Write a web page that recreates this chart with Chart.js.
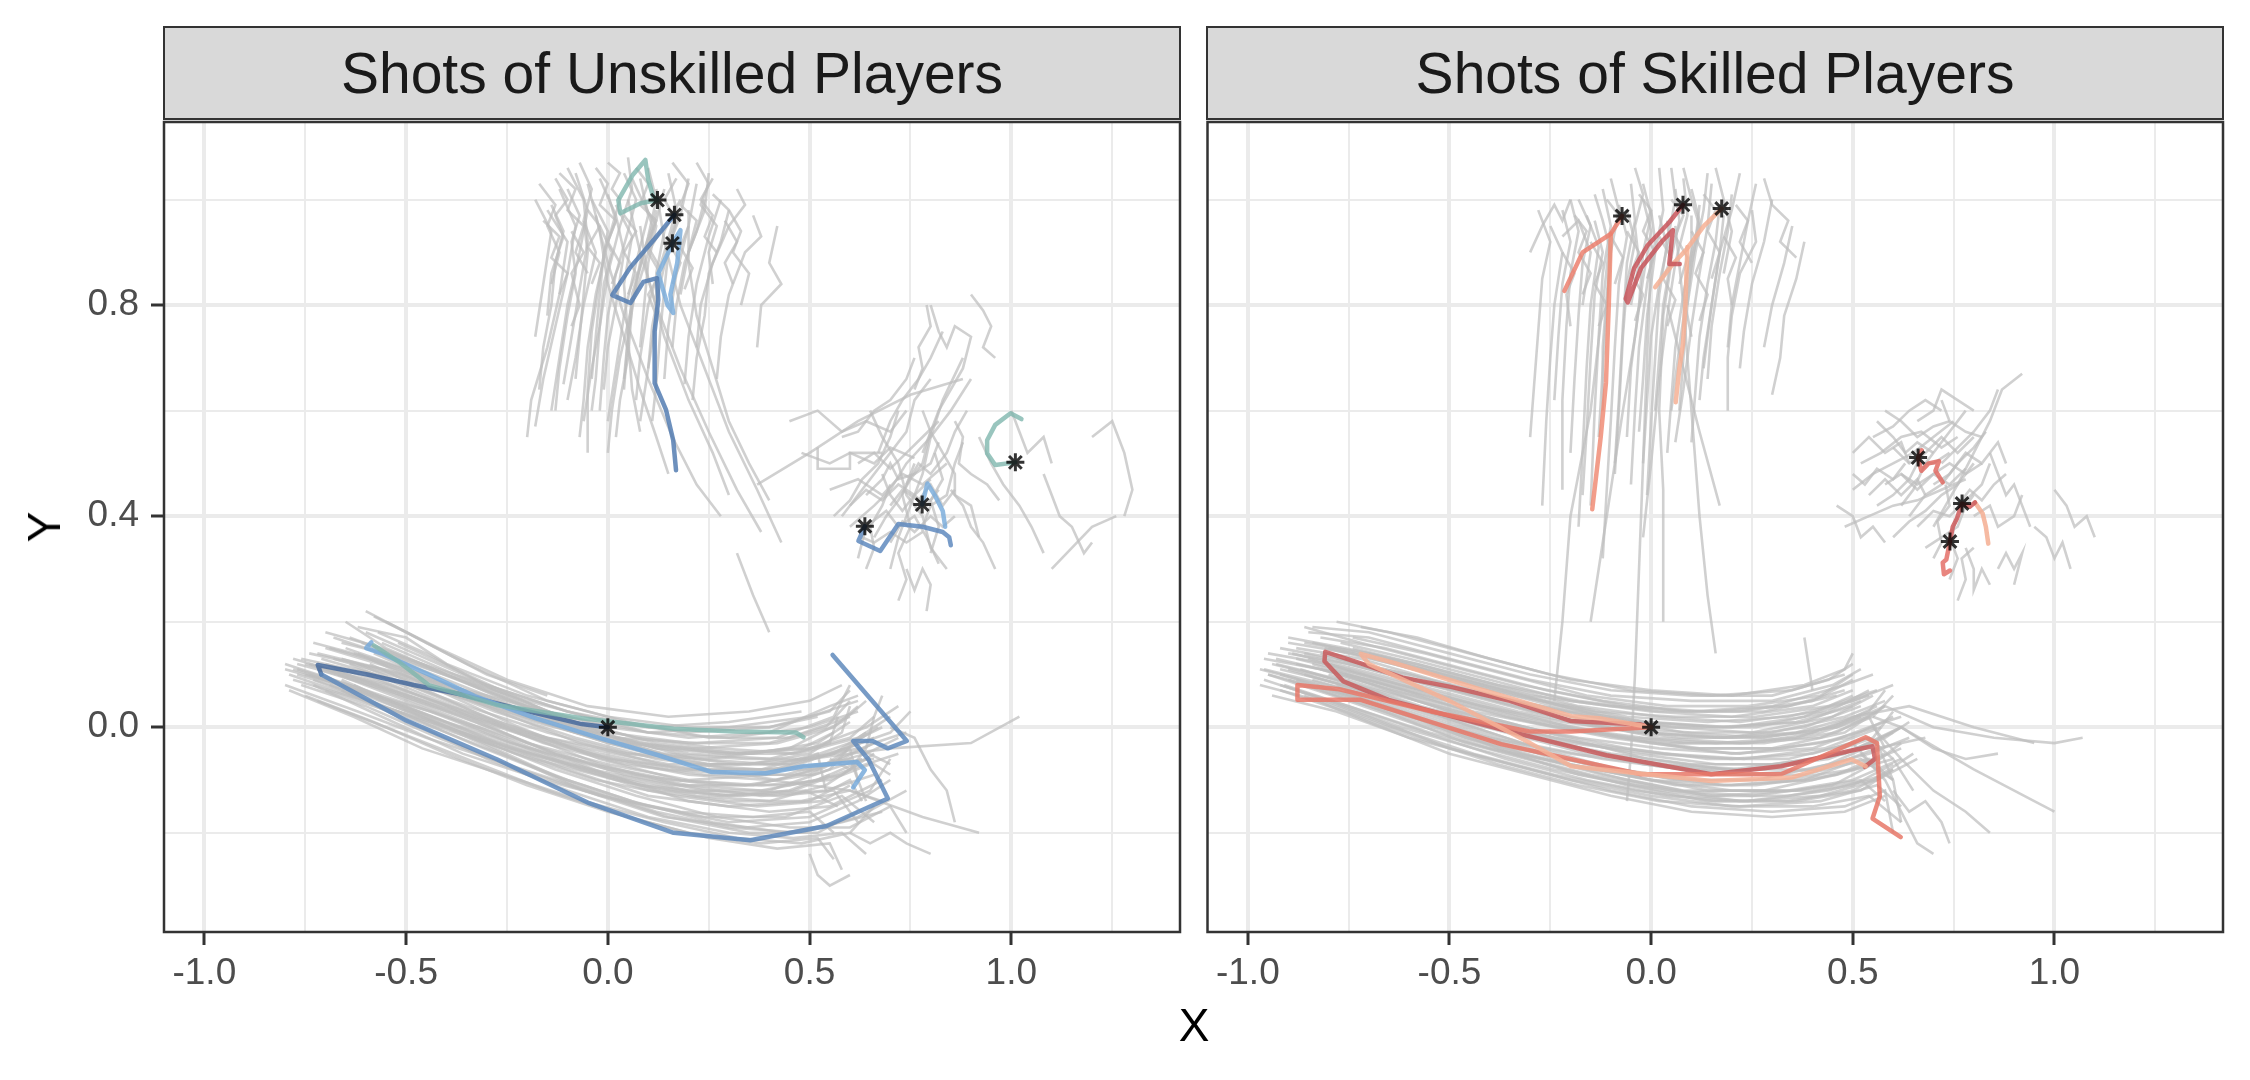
<!DOCTYPE html>
<html><head><meta charset="utf-8">
<script src="https://cdn.jsdelivr.net/npm/chart.js@4.4.1/dist/chart.umd.min.js"></script>
<style>
html,body{margin:0;padding:0;background:#fff;width:2250px;height:1080px;overflow:hidden;font-family:"Liberation Sans",Arial,sans-serif;}
.strip{position:absolute;top:26px;height:94px;background:#d9d9d9;border:2.5px solid #333;box-sizing:border-box;display:flex;align-items:center;justify-content:center;font-size:57px;color:#1a1a1a;white-space:nowrap;}
canvas{position:absolute;}
.axt{position:absolute;font-size:46px;color:#000;line-height:1;}
</style></head><body>
<div class="strip" id="s1" style="left:163px;width:1018px;"></div>
<div class="strip" id="s2" style="left:1206px;width:1018px;"></div>
<canvas id="c1" width="1190" height="895" style="left:0;top:117px;width:1190px;height:895px"></canvas>
<canvas id="c2" width="1038" height="895" style="left:1195px;top:117px;width:1038px;height:895px"></canvas>
<div class="axt" id="xt" style="left:1194px;top:1025px;transform:translate(-50%,-50%);"></div>
<div class="axt" id="yt" style="left:44px;top:527px;transform:translate(-50%,-50%) rotate(-90deg);"></div>
<script>
// ---------------- data ----------------
const panelTitles = ['Shots of Unskilled Players', 'Shots of Skilled Players'];
const xTitle = 'X';
const yTitle = 'Y';
const xTickValues = [-1, -0.5, 0, 0.5, 1];
const xTickLabels = ['-1.0', '-0.5', '0.0', '0.5', '1.0'];
const xMinorValues = [-0.75, -0.25, 0.25, 0.75, 1.25];
const yTickValues = [0, 0.4, 0.8];
const yTickLabels = ['0.0', '0.4', '0.8'];
const yMinorValues = [-0.2, 0.2, 0.6, 1.0];
const xRange = [-1.1, 1.418];
const yRange = [-0.388, 1.147];

// gray trajectories, flat [x1,y1,x2,y2,...]
const unskilledTop = [
[-0.08,1.05,-0.05,0.98,-0.07,0.9,-0.1,0.8,-0.12,0.7,-0.14,0.6],
[0.0,1.07,0.03,1.05,0.01,1.02,0.03,1.0,0.0,0.92,-0.03,0.82,-0.05,0.72,-0.06,0.62,-0.07,0.55],
[0.08,1.04,0.1,0.97,0.07,0.88,0.04,0.78,0.02,0.68,0.0,0.58],
[-0.12,1.02,-0.08,0.95,-0.1,0.86,-0.13,0.76,-0.16,0.66,-0.18,0.57],
[0.15,1.05,0.17,0.98,0.14,0.9,0.1,0.8,0.08,0.7,0.07,0.62],
[-0.04,1.0,0.0,0.94,-0.02,0.85,-0.04,0.75,-0.05,0.64,-0.05,0.52],
[0.22,1.03,0.2,0.95,0.17,0.86,0.15,0.76,0.14,0.66],
[-0.15,0.98,-0.1,0.92,-0.12,0.82,-0.15,0.72,-0.19,0.62,-0.2,0.55],
[0.05,1.08,0.06,1.02,0.03,0.95,0.0,0.86,-0.02,0.76,-0.03,0.66,-0.04,0.6],
[0.28,1.0,0.25,0.93,0.22,0.84,0.2,0.74,0.19,0.65],
[-0.1,1.06,-0.06,1.0,-0.05,0.92,-0.07,0.83,-0.09,0.74,-0.11,0.65],
[0.12,0.98,0.1,0.9,0.06,0.8,0.03,0.7,0.01,0.6,0.0,0.52],
[-0.02,1.04,0.02,0.97,0.04,0.9,0.02,0.8,0.0,0.72,-0.01,0.64],
[0.32,1.02,0.34,0.99,0.3,0.95,0.26,0.88,0.23,0.8,0.22,0.72],
[0.18,1.0,0.14,0.94,0.12,0.86,0.12,0.78,0.1,0.68,0.08,0.58],
[-0.06,0.96,-0.03,0.9,-0.06,0.8,-0.08,0.7,-0.1,0.62],
[0.1,1.06,0.12,1.0,0.1,0.93,0.07,0.84,0.05,0.74,0.04,0.66],
[0.25,1.05,0.24,0.98,0.2,0.9,0.18,0.82],
[0.36,0.97,0.38,0.93,0.34,0.9,0.3,0.82,0.28,0.74,0.27,0.66],
[0.42,0.95,0.4,0.88,0.43,0.84,0.38,0.8,0.37,0.72],
[-0.18,1.0,-0.14,0.94,-0.16,0.84,-0.18,0.74],
[0.02,0.99,0.06,0.93,0.04,0.84,0.05,0.74,0.06,0.64,0.08,0.56],
[0.05,1.0,0.08,0.9,0.12,0.8,0.18,0.68,0.25,0.56,0.32,0.45,0.38,0.37],
[0.12,1.02,0.14,0.92,0.18,0.8,0.24,0.68,0.3,0.56,0.37,0.45,0.43,0.35],
[-0.03,0.97,0.0,0.88,0.04,0.78,0.1,0.66,0.16,0.55,0.22,0.46,0.28,0.4],
[0.2,0.98,0.2,0.88,0.22,0.78,0.26,0.68,0.3,0.58,0.35,0.5,0.4,0.43],
[0.08,0.95,0.1,0.85,0.14,0.74,0.2,0.62,0.26,0.52,0.3,0.44],
[-0.05,1.03,-0.02,0.94,0.0,0.84,0.04,0.74,0.08,0.64,0.12,0.55,0.15,0.48],
[-0.13,1.04,-0.1,1.0,-0.13,0.97,-0.11,0.93,-0.14,0.86,-0.15,0.78],
[0.16,1.07,0.2,1.03,0.18,0.99,0.22,0.96,0.2,0.9],
[0.26,1.01,0.3,0.98,0.33,0.94,0.31,0.9,0.35,0.86,0.33,0.8],
[-0.1,1.02,-0.07,0.97,-0.09,0.92,-0.08,0.86,-0.1,0.78,-0.12,0.68,-0.13,0.6],
[0.04,1.05,0.07,1.0,0.05,0.94,0.02,0.86,0.0,0.78,-0.01,0.7,-0.02,0.6],
[0.14,1.02,0.12,0.96,0.09,0.9,0.06,0.82,0.05,0.74,0.04,0.64],
[0.2,1.04,0.18,0.97,0.15,0.91,0.13,0.84,0.11,0.76,0.1,0.68],
[-0.14,0.99,-0.11,0.94,-0.13,0.88,-0.14,0.8,-0.16,0.72,-0.17,0.64],
[0.0,1.01,0.02,0.96,-0.01,0.9,-0.02,0.82,-0.03,0.74,-0.04,0.66],
[0.24,1.0,0.22,0.94,0.19,0.88,0.17,0.8,0.16,0.72],
[-0.07,1.07,-0.04,1.02,-0.06,0.96,-0.05,0.9,-0.06,0.82,-0.07,0.74,-0.08,0.66],
[0.09,1.0,0.11,0.95,0.08,0.88,0.06,0.8,0.05,0.7,0.03,0.62,0.02,0.55],
[0.3,0.98,0.28,0.92,0.25,0.86,0.24,0.78,0.22,0.7,0.21,0.62],
[-0.02,0.95,0.01,0.9,-0.01,0.84,-0.02,0.76,-0.04,0.68,-0.06,0.58],
[0.17,0.96,0.15,0.9,0.14,0.83,0.13,0.75,0.12,0.65,0.11,0.58],
[0.06,1.04,0.09,0.99,0.12,0.95,0.1,0.88,0.09,0.8,0.08,0.72],
[-0.17,1.03,-0.13,0.99,-0.15,0.95,-0.12,0.9,-0.14,0.84],
[0.22,1.07,0.25,1.03,0.23,0.99,0.27,0.95,0.25,0.9,0.26,0.84],
[-0.12,1.05,-0.08,1.02,-0.1,0.98,-0.06,0.95,-0.08,0.9,-0.05,0.86],
[-0.03,1.06,0.0,1.03,-0.02,0.99,0.02,0.96,0.0,0.92,0.03,0.88,0.01,0.84],
[0.07,1.06,0.1,1.03,0.08,0.99,0.12,0.96,0.1,0.91,0.13,0.87],
[0.17,1.04,0.14,1.0,0.17,0.96,0.15,0.92,0.18,0.88,0.16,0.84],
[0.26,1.04,0.23,1.0,0.26,0.97,0.24,0.93,0.27,0.9],
[-0.16,0.96,-0.12,0.93,-0.14,0.89,-0.1,0.86,-0.12,0.82],
[-0.05,0.98,-0.02,0.95,-0.05,0.91,-0.02,0.88,-0.04,0.84],
[0.04,0.97,0.07,0.94,0.04,0.9,0.07,0.86,0.05,0.82],
[0.2,0.95,0.18,0.91,0.21,0.87,0.19,0.83],
[0.29,0.96,0.32,0.92,0.29,0.88,0.31,0.84],
[-0.09,0.94,-0.06,0.9,-0.09,0.86,-0.07,0.8,-0.09,0.76],
[0.13,0.94,0.1,0.9,0.13,0.86,0.1,0.82,0.12,0.78]
];
const unskilledRight = [
[0.6,0.38,0.66,0.42,0.7,0.45,0.74,0.5,0.8,0.55,0.85,0.6,0.9,0.66],
[0.55,0.45,0.62,0.47,0.68,0.44,0.73,0.48,0.78,0.46,0.84,0.5],
[0.7,0.3,0.72,0.36,0.75,0.42,0.78,0.48,0.8,0.55,0.83,0.62,0.88,0.7],
[0.48,0.52,0.55,0.5,0.6,0.52,0.66,0.5,0.7,0.53,0.76,0.51],
[0.62,0.32,0.64,0.38,0.69,0.41,0.72,0.38,0.76,0.4,0.79,0.36,0.82,0.31],
[0.8,0.8,0.82,0.75,0.84,0.72,0.86,0.76,0.9,0.74,0.88,0.68,0.82,0.6,0.78,0.52],
[0.92,0.55,0.95,0.5,0.98,0.46,1.02,0.42,1.05,0.38,1.08,0.33],
[0.45,0.58,0.52,0.6,0.58,0.56,0.64,0.58,0.7,0.56,0.74,0.6],
[0.72,0.24,0.74,0.28,0.72,0.33,0.75,0.38,0.73,0.44,0.76,0.5],
[0.65,0.6,0.68,0.55,0.72,0.5,0.74,0.44,0.78,0.4,0.8,0.34,0.84,0.3],
[1.08,0.48,1.1,0.44,1.12,0.4,1.15,0.38,1.18,0.33,1.2,0.35],
[0.85,0.45,0.88,0.42,0.9,0.38,0.93,0.35,0.96,0.3],
[0.58,0.4,0.62,0.44,0.66,0.48,0.7,0.52,0.74,0.56,0.76,0.62,0.8,0.66],
[0.9,0.82,0.93,0.79,0.95,0.76,0.93,0.72,0.96,0.7],
[0.52,0.53,0.52,0.49,0.6,0.49,0.6,0.52,0.68,0.52],
[0.78,0.6,0.8,0.56,0.83,0.52,0.86,0.48,0.86,0.44,0.9,0.42,0.92,0.36],
[0.7,0.42,0.73,0.45,0.77,0.43,0.8,0.46,0.83,0.42,0.86,0.45],
[0.74,0.3,0.76,0.26,0.78,0.3,0.8,0.27,0.79,0.22],
[1.0,0.6,1.02,0.56,1.04,0.52,1.08,0.55,1.1,0.5],
[0.37,0.46,0.5,0.52,0.62,0.58,0.75,0.63,0.88,0.66],
[0.64,0.44,0.68,0.47,0.7,0.5,0.72,0.47,0.76,0.48,0.8,0.5,0.82,0.54],
[0.86,0.58,0.88,0.55,0.87,0.5,0.9,0.48,0.94,0.46,0.97,0.43],
[0.63,0.36,0.66,0.35,0.7,0.37,0.74,0.35,0.78,0.37],
[0.8,0.33,0.82,0.38,0.8,0.43,0.83,0.47,0.81,0.52],
[1.2,0.55,1.25,0.58,1.28,0.52,1.3,0.45,1.28,0.4],
[1.1,0.3,1.15,0.34,1.2,0.38,1.26,0.4],
[0.76,0.64,0.78,0.68,0.77,0.72,0.8,0.76,0.79,0.8],
[0.67,0.52,0.7,0.58,0.73,0.62,0.77,0.66,0.8,0.7,0.83,0.75],
[0.6,0.42,0.64,0.45,0.68,0.43,0.72,0.46,0.76,0.44,0.8,0.47],
[0.66,0.36,0.69,0.4,0.72,0.43,0.75,0.47,0.78,0.5,0.8,0.56],
[0.62,0.5,0.66,0.52,0.7,0.49,0.74,0.52,0.78,0.55,0.82,0.58],
[0.7,0.35,0.73,0.39,0.76,0.37,0.8,0.4,0.83,0.38,0.86,0.4],
[0.56,0.4,0.6,0.43,0.63,0.47,0.67,0.5,0.7,0.55,0.72,0.6],
[0.74,0.46,0.77,0.5,0.8,0.48,0.84,0.52,0.86,0.56,0.89,0.6],
[0.68,0.48,0.7,0.44,0.73,0.41,0.76,0.44,0.79,0.42,0.82,0.45],
[0.64,0.3,0.66,0.34,0.65,0.38,0.68,0.42,0.7,0.46],
[0.78,0.38,0.8,0.42,0.84,0.44,0.86,0.5,0.88,0.54],
[0.58,0.55,0.62,0.56,0.66,0.6,0.7,0.62,0.74,0.66,0.76,0.7]
];
const unskilledBottom = [
[-0.78,0.09,-0.6,0.05,-0.4,0.0,-0.2,-0.05,0,-0.09,0.2,-0.12,0.4,-0.12,0.55,-0.08,0.62,-0.02],
[-0.75,0.12,-0.55,0.08,-0.35,0.03,-0.15,-0.02,0.05,-0.05,0.25,-0.06,0.45,-0.04,0.58,0.01,0.64,0.05],
[-0.72,0.14,-0.5,0.1,-0.3,0.06,-0.1,0.02,0.1,-0.01,0.3,0.0,0.5,0.02,0.62,0.05],
[-0.7,0.07,-0.5,0.02,-0.3,-0.04,-0.1,-0.1,0.1,-0.15,0.3,-0.18,0.5,-0.17,0.65,-0.12,0.7,-0.06],
[-0.66,0.16,-0.5,0.13,-0.3,0.08,-0.1,0.03,0.1,0.0,0.3,0.01,0.48,0.03],
[-0.62,0.19,-0.5,0.17,-0.4,0.12,-0.2,0.06,0,0.02,0.2,0.0,0.4,0.0,0.55,0.03,0.6,0.07],
[-0.8,0.08,-0.62,0.03,-0.45,-0.02,-0.25,-0.07,-0.05,-0.12,0.15,-0.17,0.35,-0.2,0.52,-0.2,0.62,-0.16],
[-0.74,0.1,-0.55,0.05,-0.35,-0.01,-0.1,-0.08,0.1,-0.13,0.3,-0.15,0.5,-0.14,0.6,-0.1,0.63,-0.14],
[-0.68,0.13,-0.45,0.08,-0.25,0.03,0,-0.03,0.25,-0.07,0.45,-0.07,0.6,-0.03,0.68,0.0],
[-0.6,0.15,-0.4,0.09,-0.2,0.03,0,-0.02,0.2,-0.05,0.4,-0.06,0.55,-0.03,0.57,0.02],
[-0.77,0.11,-0.6,0.07,-0.4,0.02,-0.2,-0.03,0,-0.07,0.2,-0.1,0.4,-0.09,0.55,-0.05,0.7,-0.01,0.75,0.03],
[-0.72,0.05,-0.55,0.0,-0.35,-0.06,-0.15,-0.12,0.05,-0.17,0.25,-0.21,0.42,-0.23,0.55,-0.22,0.58,-0.27],
[-0.64,0.12,-0.45,0.06,-0.25,0.0,-0.05,-0.05,0.15,-0.08,0.35,-0.09,0.52,-0.07,0.66,-0.06],
[-0.58,0.21,-0.5,0.18,-0.35,0.12,-0.15,0.05,0.05,0.01,0.25,-0.02,0.45,-0.02,0.6,0.02],
[-0.76,0.13,-0.58,0.1,-0.38,0.06,-0.18,0.01,0.02,-0.03,0.22,-0.04,0.42,-0.03,0.56,0.0,0.62,0.04],
[-0.7,0.11,-0.52,0.06,-0.32,0.0,-0.12,-0.06,0.08,-0.11,0.28,-0.13,0.46,-0.12,0.6,-0.08,0.72,-0.05],
[-0.66,0.09,-0.48,0.03,-0.28,-0.04,-0.08,-0.11,0.12,-0.16,0.3,-0.19,0.48,-0.2,0.62,-0.17,0.74,-0.12],
[-0.55,0.2,-0.42,0.15,-0.25,0.09,-0.05,0.04,0.15,0.02,0.35,0.03,0.5,0.05,0.58,0.08],
[-0.79,0.1,-0.64,0.06,-0.44,0.01,-0.24,-0.04,-0.04,-0.08,0.16,-0.11,0.36,-0.11,0.52,-0.08,0.6,-0.04,0.62,-0.1],
[-0.62,0.14,-0.42,0.07,-0.22,0.0,-0.02,-0.06,0.18,-0.1,0.38,-0.11,0.55,-0.1,0.65,-0.07],
[-0.73,0.08,-0.56,0.02,-0.36,-0.05,-0.16,-0.1,0.04,-0.14,0.24,-0.17,0.44,-0.17,0.58,-0.13,0.66,-0.18],
[-0.68,0.17,-0.52,0.13,-0.33,0.08,-0.13,0.02,0.07,-0.02,0.27,-0.04,0.47,-0.05,0.62,-0.02,0.7,0.02],
[-0.8,0.11,-0.66,0.08,-0.5,0.04,-0.3,-0.02,-0.1,-0.07,0.1,-0.11,0.3,-0.13,0.45,-0.12,0.55,-0.09],
[-0.6,0.1,-0.4,0.04,-0.2,-0.03,0.0,-0.09,0.2,-0.14,0.4,-0.16,0.55,-0.15,0.68,-0.1],
[-0.57,0.18,-0.45,0.14,-0.28,0.07,-0.08,0.01,0.12,-0.03,0.32,-0.05,0.5,-0.04,0.64,0.0,0.72,0.04],
[-0.75,0.06,-0.58,0.01,-0.4,-0.05,-0.2,-0.11,0.0,-0.16,0.2,-0.2,0.38,-0.22,0.52,-0.21,0.56,-0.25],
[-0.65,0.2,-0.55,0.15,-0.4,0.1,-0.2,0.04,0,0.0,0.2,-0.02,0.4,-0.01,0.55,0.04,0.62,0.06],
[-0.7,0.15,-0.48,0.1,-0.28,0.04,-0.08,-0.01,0.12,-0.05,0.32,-0.07,0.5,-0.06,0.7,-0.04,0.9,-0.03,1.02,0.02],
[-0.62,0.12,-0.4,0.05,-0.2,-0.01,0,-0.06,0.2,-0.09,0.4,-0.1,0.6,-0.12,0.78,-0.17,0.92,-0.2],
[-0.78,0.13,-0.6,0.09,-0.42,0.04,-0.22,-0.01,-0.02,-0.05,0.18,-0.08,0.38,-0.08,0.52,-0.05,0.54,-0.12],
[-0.52,0.16,-0.35,0.1,-0.15,0.03,0.05,-0.03,0.25,-0.08,0.42,-0.1,0.6,-0.06,0.64,-0.14],
[-0.71,0.1,-0.53,0.04,-0.33,-0.02,-0.13,-0.08,0.07,-0.13,0.27,-0.17,0.45,-0.19,0.6,-0.19,0.7,-0.15,0.74,-0.2],
[-0.6,0.22,-0.55,0.2,-0.45,0.16,-0.3,0.1,-0.15,0.06],
[0.4,0.18,0.36,0.25,0.32,0.33],
[-0.77,0.12,-0.62,0.09,-0.45,0.05,-0.25,0.0,-0.05,-0.04,0.15,-0.07,0.35,-0.07,0.5,-0.05,0.58,-0.01,0.6,0.04],
[-0.73,0.09,-0.56,0.04,-0.38,-0.01,-0.18,-0.06,0.02,-0.1,0.22,-0.13,0.4,-0.14,0.54,-0.11,0.62,-0.07],
[-0.69,0.15,-0.5,0.11,-0.32,0.06,-0.12,0.01,0.08,-0.03,0.28,-0.05,0.46,-0.05,0.6,-0.02,0.66,0.02],
[-0.64,0.17,-0.46,0.12,-0.28,0.06,-0.08,0.0,0.12,-0.04,0.3,-0.05,0.48,-0.04,0.56,-0.01],
[-0.79,0.07,-0.63,0.02,-0.46,-0.04,-0.26,-0.09,-0.06,-0.14,0.14,-0.18,0.32,-0.21,0.48,-0.22,0.6,-0.2,0.66,-0.15],
[-0.75,0.1,-0.58,0.06,-0.4,0.01,-0.2,-0.04,0.0,-0.08,0.2,-0.11,0.38,-0.12,0.52,-0.1,0.64,-0.06,0.7,-0.09],
[-0.6,0.18,-0.48,0.14,-0.3,0.08,-0.1,0.03,0.1,-0.01,0.3,-0.02,0.5,0.0,0.62,0.03],
[-0.7,0.12,-0.54,0.08,-0.36,0.03,-0.16,-0.03,0.04,-0.07,0.24,-0.09,0.44,-0.09,0.58,-0.06,0.66,-0.03],
[-0.67,0.1,-0.5,0.05,-0.3,-0.01,-0.1,-0.07,0.1,-0.12,0.3,-0.14,0.48,-0.14,0.6,-0.12,0.68,-0.14],
[-0.74,0.14,-0.56,0.11,-0.38,0.07,-0.18,0.02,0.02,-0.02,0.22,-0.03,0.42,-0.02,0.56,0.02,0.6,0.08],
[-0.63,0.08,-0.46,0.02,-0.26,-0.05,-0.06,-0.12,0.14,-0.17,0.34,-0.19,0.5,-0.18,0.62,-0.14,0.7,-0.1],
[-0.58,0.14,-0.4,0.08,-0.2,0.02,0.0,-0.03,0.2,-0.07,0.38,-0.08,0.54,-0.07,0.66,-0.03,0.74,-0.01],
[-0.76,0.08,-0.6,0.04,-0.42,-0.02,-0.22,-0.08,-0.02,-0.13,0.18,-0.16,0.36,-0.17,0.5,-0.16,0.56,-0.2],
[-0.7,0.18,-0.56,0.15,-0.4,0.1,-0.2,0.05,0.0,0.01,0.2,-0.01,0.4,0.0,0.52,0.02],
[-0.66,0.13,-0.48,0.09,-0.28,0.03,-0.08,-0.02,0.12,-0.06,0.32,-0.08,0.5,-0.08,0.64,-0.05,0.72,-0.02],
[-0.72,0.11,-0.55,0.07,-0.36,0.02,-0.16,-0.04,0.04,-0.09,0.24,-0.12,0.42,-0.13,0.56,-0.12,0.62,-0.18],
[-0.61,0.16,-0.44,0.11,-0.24,0.05,-0.04,-0.01,0.16,-0.04,0.36,-0.05,0.52,-0.03,0.6,0.01],
[-0.78,0.11,-0.62,0.07,-0.44,0.03,-0.24,-0.03,-0.04,-0.07,0.16,-0.1,0.34,-0.11,0.5,-0.09,0.58,-0.06],
[-0.69,0.08,-0.52,0.03,-0.34,-0.03,-0.14,-0.09,0.06,-0.14,0.26,-0.18,0.44,-0.2,0.58,-0.18,0.68,-0.16],
[-0.65,0.15,-0.46,0.1,-0.26,0.04,-0.06,-0.01,0.14,-0.05,0.34,-0.06,0.5,-0.06,0.62,-0.04,0.7,-0.07],
[0.55,-0.06,0.6,-0.08,0.64,-0.04,0.66,0.02,0.68,0.06],
[0.6,-0.2,0.65,-0.22,0.7,-0.2,0.74,-0.22,0.8,-0.24],
[0.7,0.0,0.76,-0.02,0.8,-0.08,0.84,-0.12,0.86,-0.18],
[0.5,-0.24,0.52,-0.28,0.55,-0.3,0.6,-0.28],
[-0.74,0.12,-0.57,0.08,-0.39,0.03,-0.19,-0.02,0.01,-0.06,0.21,-0.08,0.41,-0.08,0.56,-0.05,0.64,-0.01],
[-0.68,0.11,-0.51,0.06,-0.33,0.01,-0.13,-0.05,0.07,-0.09,0.27,-0.11,0.45,-0.11,0.58,-0.09,0.66,-0.05],
[-0.63,0.14,-0.45,0.09,-0.27,0.03,-0.07,-0.03,0.13,-0.07,0.33,-0.09,0.51,-0.09,0.63,-0.06],
[-0.77,0.1,-0.6,0.06,-0.43,0.01,-0.23,-0.05,-0.03,-0.1,0.17,-0.13,0.37,-0.15,0.53,-0.14,0.6,-0.11],
[-0.71,0.13,-0.53,0.09,-0.35,0.04,-0.15,-0.01,0.05,-0.05,0.25,-0.07,0.45,-0.07,0.59,-0.04,0.67,0.0],
[-0.66,0.07,-0.49,0.01,-0.3,-0.06,-0.1,-0.12,0.1,-0.17,0.3,-0.2,0.46,-0.21,0.58,-0.2,0.64,-0.24],
[-0.59,0.12,-0.42,0.06,-0.22,-0.01,-0.02,-0.07,0.18,-0.11,0.38,-0.13,0.54,-0.12,0.66,-0.09],
[-0.73,0.16,-0.58,0.13,-0.4,0.08,-0.2,0.03,0.0,-0.01,0.2,-0.03,0.4,-0.03,0.54,0.0,0.6,0.05],
[-0.56,0.16,-0.38,0.1,-0.18,0.04,0.02,-0.02,0.22,-0.06,0.4,-0.07,0.56,-0.05,0.66,-0.02],
[-0.8,0.12,-0.64,0.08,-0.47,0.03,-0.27,-0.03,-0.07,-0.08,0.13,-0.12,0.33,-0.13,0.49,-0.12,0.57,-0.15]
];
const skilledTop = [
[-0.28,0.98,-0.25,0.92,-0.27,0.85,-0.28,0.75,-0.29,0.65,-0.3,0.55],
[-0.2,1.0,-0.18,0.94,-0.2,0.86,-0.21,0.76,-0.22,0.62,-0.22,0.45],
[-0.12,1.02,-0.1,0.95,-0.12,0.86,-0.13,0.74,-0.14,0.6,-0.15,0.42],
[-0.05,1.03,-0.04,0.96,-0.06,0.88,-0.07,0.76,-0.08,0.62,-0.09,0.5],
[0.02,1.06,0.03,0.98,0.01,0.9,-0.01,0.78,-0.02,0.66,-0.03,0.56],
[0.08,1.04,0.09,0.97,0.06,0.88,0.04,0.78,0.02,0.66,0.0,0.5,-0.02,0.36],
[0.15,1.03,0.14,0.95,0.12,0.86,0.1,0.76,0.08,0.64,0.06,0.54],
[0.22,1.05,0.2,0.98,0.17,0.9,0.15,0.8,0.13,0.68],
[0.3,1.0,0.28,0.92,0.25,0.84,0.23,0.75,0.22,0.68],
[-0.25,0.95,-0.22,0.9,-0.24,0.8,-0.25,0.7,-0.26,0.58,-0.27,0.42],
[-0.16,0.97,-0.13,0.91,-0.15,0.8,-0.16,0.68,-0.17,0.52,-0.18,0.38],
[-0.08,0.99,-0.06,0.93,-0.08,0.84,-0.09,0.72,-0.1,0.58,-0.11,0.45,-0.12,0.32],
[0.0,0.98,0.01,0.92,-0.01,0.84,-0.03,0.72,-0.04,0.6,-0.05,0.46],
[0.05,1.06,0.06,1.0,0.04,0.92,0.02,0.82,0.01,0.7,0.0,0.58,-0.01,0.44],
[0.12,0.99,0.11,0.92,0.09,0.83,0.07,0.72,0.05,0.6],
[0.18,0.97,0.17,0.9,0.15,0.8,0.13,0.7,0.12,0.62],
[0.35,0.95,0.33,0.88,0.3,0.8,0.28,0.72],
[0.38,0.92,0.36,0.85,0.33,0.78,0.32,0.7,0.3,0.63],
[-0.02,1.0,0.0,0.94,-0.02,0.85,-0.04,0.74,-0.07,0.6,-0.1,0.45,-0.13,0.3,-0.15,0.2],
[0.04,0.96,0.05,0.88,0.03,0.78,0.02,0.6,0.03,0.45,0.03,0.3,0.03,0.2],
[-0.1,0.94,-0.12,0.8,-0.15,0.6,-0.2,0.4,-0.22,0.2,-0.24,0.05],
[0.06,0.95,0.08,0.8,0.1,0.6,0.12,0.4,0.14,0.25,0.16,0.14],
[0.0,0.9,-0.01,0.7,-0.02,0.5,-0.03,0.3,-0.04,0.1,-0.05,-0.05,-0.06,-0.14],
[0.1,1.02,0.12,0.96,0.1,0.9,0.08,0.82,0.1,0.74],
[-0.22,0.93,-0.18,0.96,-0.15,0.9,-0.17,0.8],
[0.25,0.98,0.26,0.92,0.22,0.86,0.2,0.78,0.19,0.7,0.19,0.6],
[0.16,1.06,0.18,1.0,0.2,0.94,0.18,0.86],
[-0.14,1.01,-0.12,0.96,-0.1,0.9,-0.11,0.82,-0.12,0.72,-0.12,0.6],
[0.04,0.8,0.08,0.68,0.12,0.56,0.17,0.42],
[-0.3,0.9,-0.27,0.95,-0.24,0.99,-0.22,0.96,-0.2,1.0],
[0.28,1.04,0.3,0.99,0.34,0.96,0.32,0.92,0.36,0.89],
[-0.18,1.0,-0.15,0.95,-0.17,0.88,-0.18,0.78,-0.19,0.66,-0.2,0.52],
[-0.1,1.04,-0.08,0.98,-0.1,0.9,-0.11,0.8,-0.12,0.68,-0.13,0.55],
[-0.02,1.03,0.0,0.97,-0.02,0.9,-0.03,0.8,-0.05,0.68,-0.06,0.55],
[0.06,1.02,0.07,0.96,0.05,0.89,0.03,0.8,0.02,0.7,0.01,0.6],
[0.14,1.05,0.13,0.98,0.11,0.9,0.09,0.8,0.08,0.7,0.07,0.6],
[0.2,1.01,0.19,0.94,0.17,0.86,0.15,0.76,0.14,0.66],
[-0.14,0.96,-0.12,0.9,-0.14,0.82,-0.15,0.7,-0.16,0.56,-0.17,0.44],
[-0.06,0.98,-0.04,0.92,-0.06,0.84,-0.07,0.74,-0.08,0.6,-0.09,0.48],
[0.02,0.97,0.04,0.91,0.02,0.84,0.0,0.74,-0.01,0.62,-0.02,0.5],
[0.1,0.97,0.1,0.9,0.08,0.82,0.06,0.72,0.05,0.62,0.04,0.52],
[-0.22,0.98,-0.2,0.92,-0.22,0.84,-0.23,0.74,-0.24,0.62],
[0.26,1.03,0.24,0.96,0.22,0.88,0.2,0.8,0.19,0.72],
[-0.04,1.06,-0.02,1.01,-0.04,0.95,-0.03,0.88,-0.05,0.8],
[0.08,1.06,0.1,1.0,0.12,0.95,0.1,0.88,0.09,0.8],
[0.17,0.99,0.16,0.92,0.14,0.84,0.12,0.74,0.11,0.64,0.1,0.54],
[-0.19,0.97,-0.16,0.94,-0.18,0.9,-0.15,0.86,-0.17,0.82],
[-0.11,1.0,-0.08,0.97,-0.1,0.93,-0.07,0.89,-0.09,0.84],
[-0.03,1.01,0.0,0.98,-0.02,0.94,0.01,0.9,-0.01,0.85],
[0.05,1.0,0.08,0.97,0.06,0.93,0.09,0.89,0.07,0.84],
[0.13,1.01,0.16,0.98,0.14,0.94,0.17,0.9,0.15,0.85],
[0.21,0.99,0.24,0.96,0.22,0.92,0.25,0.88],
[-0.15,0.92,-0.12,0.88,-0.14,0.84,-0.11,0.8,-0.13,0.76],
[-0.06,0.94,-0.03,0.9,-0.05,0.86,-0.02,0.82,-0.04,0.77],
[0.02,0.93,0.05,0.89,0.03,0.85,0.06,0.81,0.04,0.76],
[0.1,0.94,0.13,0.9,0.11,0.86,0.14,0.82,0.12,0.77],
[0.18,0.93,0.21,0.89,0.19,0.85,0.2,0.8],
[-0.22,0.9,-0.19,0.86,-0.21,0.82,-0.2,0.76]
];
const skilledRight = [
[0.5,0.45,0.55,0.48,0.6,0.5,0.65,0.52,0.7,0.55,0.75,0.58],
[0.48,0.38,0.54,0.4,0.6,0.42,0.66,0.43,0.72,0.45,0.78,0.47],
[0.55,0.55,0.6,0.57,0.64,0.6,0.68,0.62,0.72,0.6],
[0.6,0.36,0.64,0.39,0.68,0.41,0.72,0.44,0.76,0.46,0.8,0.5],
[0.7,0.38,0.73,0.42,0.76,0.46,0.8,0.52,0.84,0.58,0.87,0.64,0.92,0.67],
[0.52,0.5,0.57,0.52,0.62,0.55,0.67,0.56,0.72,0.53,0.76,0.55],
[0.8,0.4,0.84,0.42,0.86,0.38,0.9,0.4,0.92,0.44],
[0.62,0.48,0.66,0.46,0.7,0.48,0.74,0.5,0.78,0.48,0.82,0.5],
[0.66,0.58,0.7,0.6,0.72,0.64,0.76,0.62,0.8,0.6],
[0.78,0.34,0.8,0.3,0.8,0.26,0.82,0.3,0.84,0.27],
[0.95,0.38,0.98,0.36,1.0,0.32,1.02,0.35,1.04,0.3],
[1.0,0.45,1.03,0.42,1.05,0.38,1.08,0.4,1.1,0.36],
[0.56,0.42,0.6,0.44,0.64,0.47,0.66,0.5,0.7,0.5,0.74,0.52],
[0.84,0.52,0.86,0.48,0.88,0.44,0.9,0.46,0.92,0.42,0.94,0.38],
[0.68,0.34,0.72,0.36,0.76,0.38,0.78,0.42,0.8,0.44],
[0.58,0.6,0.62,0.58,0.66,0.55,0.7,0.57,0.74,0.58],
[0.74,0.28,0.76,0.32,0.74,0.36,0.76,0.4],
[0.46,0.42,0.5,0.4,0.52,0.36,0.55,0.38,0.58,0.35],
[0.86,0.3,0.88,0.33,0.9,0.3,0.92,0.33,0.9,0.27],
[0.64,0.4,0.68,0.44,0.72,0.46,0.76,0.5,0.8,0.53,0.83,0.56],
[0.76,0.24,0.78,0.28,0.77,0.32,0.8,0.34],
[0.72,0.62,0.74,0.58,0.78,0.56,0.82,0.55],
[0.5,0.52,0.54,0.55,0.58,0.52,0.62,0.54,0.64,0.5],
[0.7,0.46,0.74,0.48,0.78,0.52,0.82,0.5,0.86,0.54,0.88,0.5],
[0.58,0.46,0.62,0.48,0.66,0.45,0.7,0.48,0.74,0.46,0.78,0.49],
[0.6,0.53,0.64,0.5,0.68,0.52,0.72,0.55,0.76,0.52,0.8,0.55],
[0.54,0.44,0.58,0.47,0.62,0.44,0.66,0.47,0.68,0.44],
[0.66,0.38,0.7,0.41,0.74,0.4,0.78,0.43,0.82,0.46,0.84,0.5],
[0.56,0.58,0.6,0.55,0.63,0.52,0.66,0.54,0.7,0.52],
[0.62,0.42,0.65,0.45,0.68,0.5,0.71,0.53,0.74,0.56,0.78,0.6],
[0.72,0.5,0.76,0.53,0.8,0.56,0.84,0.6,0.86,0.64],
[0.5,0.48,0.53,0.46,0.56,0.49,0.6,0.47,0.63,0.5],
[0.7,0.32,0.72,0.35,0.71,0.39,0.74,0.42,0.73,0.46],
[0.76,0.42,0.79,0.45,0.82,0.43,0.85,0.46,0.88,0.48]
];
const skilledBottom = [
[-0.95,0.1,-0.8,0.07,-0.6,0.02,-0.4,-0.02,-0.2,-0.05,0,-0.07,0.2,-0.08,0.4,-0.06,0.55,-0.02,0.6,0.03],
[-0.9,0.14,-0.75,0.12,-0.55,0.08,-0.35,0.05,-0.15,0.02,0.05,0.0,0.25,-0.01,0.45,0.02,0.55,0.06],
[-0.85,0.18,-0.7,0.17,-0.5,0.13,-0.3,0.09,-0.1,0.06,0.1,0.05,0.3,0.05,0.45,0.08,0.52,0.11],
[-0.92,0.08,-0.75,0.04,-0.55,-0.01,-0.35,-0.05,-0.15,-0.09,0.05,-0.12,0.25,-0.13,0.45,-0.11,0.55,-0.07],
[-0.88,0.12,-0.7,0.09,-0.5,0.05,-0.3,0.01,-0.1,-0.02,0.1,-0.04,0.3,-0.04,0.48,-0.01,0.58,0.04],
[-0.8,0.15,-0.62,0.12,-0.42,0.08,-0.22,0.04,-0.02,0.01,0.18,0.0,0.38,0.01,0.52,0.05],
[-0.97,0.11,-0.82,0.08,-0.62,0.03,-0.42,-0.02,-0.22,-0.06,-0.02,-0.09,0.18,-0.11,0.38,-0.1,0.52,-0.06,0.6,-0.1],
[-0.78,0.2,-0.65,0.18,-0.45,0.14,-0.25,0.1,-0.05,0.07,0.15,0.06,0.35,0.07,0.48,0.1],
[-0.86,0.1,-0.68,0.06,-0.48,0.01,-0.28,-0.04,-0.08,-0.08,0.12,-0.1,0.32,-0.1,0.5,-0.08,0.62,-0.04],
[-0.93,0.13,-0.76,0.1,-0.56,0.06,-0.36,0.02,-0.16,-0.01,0.04,-0.03,0.24,-0.03,0.42,-0.01,0.54,0.02,0.58,-0.04],
[-0.82,0.07,-0.66,0.03,-0.46,-0.03,-0.26,-0.07,-0.06,-0.11,0.14,-0.14,0.34,-0.14,0.5,-0.12,0.6,-0.08],
[-0.9,0.16,-0.74,0.14,-0.54,0.1,-0.34,0.06,-0.14,0.03,0.06,0.02,0.26,0.02,0.44,0.04,0.56,0.07],
[-0.84,0.12,-0.66,0.08,-0.46,0.03,-0.26,-0.01,-0.06,-0.04,0.14,-0.06,0.34,-0.06,0.5,-0.03,0.56,-0.08],
[-0.96,0.09,-0.8,0.05,-0.62,0.0,-0.44,-0.04,-0.24,-0.08,-0.04,-0.11,0.16,-0.13,0.36,-0.12,0.52,-0.1,0.58,-0.14],
[-0.74,0.17,-0.56,0.14,-0.36,0.1,-0.16,0.06,0.04,0.04,0.24,0.04,0.42,0.06,0.5,0.1],
[-0.88,0.09,-0.72,0.05,-0.52,0.0,-0.32,-0.05,-0.12,-0.09,0.08,-0.12,0.28,-0.12,0.46,-0.09,0.6,-0.06,0.65,-0.12],
[-0.8,0.12,-0.6,0.08,-0.4,0.04,-0.2,0.0,0.0,-0.03,0.2,-0.05,0.4,-0.04,0.54,0.0,0.62,0.02],
[-0.92,0.15,-0.78,0.13,-0.6,0.1,-0.4,0.06,-0.2,0.03,0.0,0.01,0.2,0.0,0.38,0.02,0.5,0.06],
[-0.76,0.1,-0.58,0.05,-0.38,0.0,-0.18,-0.04,0.02,-0.07,0.22,-0.09,0.42,-0.08,0.56,-0.04,0.68,-0.02],
[-0.86,0.19,-0.72,0.16,-0.52,0.12,-0.32,0.08,-0.12,0.05,0.08,0.03,0.28,0.03,0.46,0.06],
[-0.94,0.06,-0.78,0.03,-0.6,-0.02,-0.4,-0.06,-0.2,-0.1,0.0,-0.13,0.2,-0.15,0.4,-0.15,0.54,-0.13,0.62,-0.18],
[-0.7,0.14,-0.52,0.1,-0.32,0.06,-0.12,0.02,0.08,-0.01,0.28,-0.02,0.46,0.0,0.58,0.04,0.7,0.0,0.85,-0.02,1.0,-0.03,1.07,-0.02],
[-0.84,0.16,-0.66,0.13,-0.46,0.09,-0.26,0.05,-0.06,0.02,0.14,0.01,0.34,0.02,0.5,0.05,0.6,0.08],
[-0.9,0.11,-0.72,0.07,-0.52,0.02,-0.32,-0.03,-0.12,-0.06,0.08,-0.08,0.28,-0.08,0.48,-0.05,0.62,0.0,0.8,-0.08,0.95,-0.14,1.0,-0.16],
[-0.78,0.08,-0.6,0.03,-0.4,-0.02,-0.2,-0.07,0.0,-0.1,0.2,-0.12,0.4,-0.12,0.55,-0.1,0.65,-0.05],
[-0.96,0.13,-0.82,0.11,-0.64,0.07,-0.44,0.03,-0.24,0.0,-0.04,-0.02,0.16,-0.03,0.36,-0.02,0.52,0.02],
[-0.72,0.19,-0.58,0.17,-0.4,0.13,-0.2,0.09,0.0,0.07,0.2,0.06,0.38,0.08,0.48,0.11,0.5,0.14],
[-0.88,0.07,-0.7,0.02,-0.5,-0.04,-0.3,-0.08,-0.1,-0.12,0.1,-0.15,0.3,-0.16,0.48,-0.15,0.58,-0.12,0.6,-0.2],
[-0.82,0.14,-0.64,0.1,-0.44,0.06,-0.24,0.02,-0.04,-0.01,0.16,-0.02,0.36,-0.01,0.5,0.02,0.64,0.04,0.8,0.0,0.95,-0.03],
[-0.92,0.1,-0.74,0.06,-0.54,0.01,-0.34,-0.04,-0.14,-0.07,0.06,-0.1,0.26,-0.1,0.44,-0.07,0.56,-0.03,0.6,-0.1,0.62,-0.18],
[-0.76,0.13,-0.58,0.09,-0.38,0.05,-0.18,0.01,0.02,-0.02,0.22,-0.03,0.42,-0.02,0.55,0.02,0.6,0.06],
[-0.86,0.16,-0.7,0.14,-0.5,0.1,-0.3,0.06,-0.1,0.04,0.1,0.03,0.3,0.04,0.48,0.08,0.55,0.1],
[0.55,0.0,0.62,-0.06,0.7,-0.12,0.78,-0.16,0.84,-0.2],
[-0.94,0.12,-0.78,0.09,-0.58,0.05,-0.38,0.01,-0.18,-0.02,0.02,-0.04,0.22,-0.05,0.42,-0.03,0.56,0.0],
[-0.9,0.09,-0.74,0.05,-0.54,0.0,-0.34,-0.05,-0.14,-0.08,0.06,-0.11,0.26,-0.11,0.46,-0.09,0.58,-0.05],
[-0.86,0.14,-0.7,0.11,-0.5,0.07,-0.3,0.03,-0.1,0.0,0.1,-0.01,0.3,-0.01,0.48,0.02,0.58,0.05],
[-0.82,0.17,-0.66,0.15,-0.46,0.11,-0.26,0.07,-0.06,0.04,0.14,0.03,0.34,0.04,0.48,0.07],
[-0.97,0.08,-0.82,0.05,-0.64,0.0,-0.44,-0.05,-0.24,-0.09,-0.04,-0.12,0.16,-0.14,0.36,-0.14,0.52,-0.12,0.6,-0.08],
[-0.88,0.13,-0.72,0.1,-0.52,0.06,-0.32,0.02,-0.12,-0.01,0.08,-0.03,0.28,-0.03,0.46,-0.01,0.56,0.03],
[-0.92,0.11,-0.76,0.08,-0.56,0.03,-0.36,-0.01,-0.16,-0.05,0.04,-0.07,0.24,-0.08,0.44,-0.06,0.58,-0.02,0.64,0.01],
[-0.8,0.1,-0.62,0.06,-0.42,0.01,-0.22,-0.03,-0.02,-0.07,0.18,-0.09,0.38,-0.09,0.54,-0.06,0.6,-0.1],
[-0.84,0.09,-0.66,0.05,-0.46,0.0,-0.26,-0.05,-0.06,-0.09,0.14,-0.12,0.34,-0.12,0.5,-0.1,0.62,-0.06],
[-0.9,0.17,-0.76,0.15,-0.58,0.12,-0.38,0.08,-0.18,0.05,0.02,0.03,0.22,0.03,0.4,0.05,0.5,0.09],
[-0.78,0.13,-0.6,0.1,-0.4,0.06,-0.2,0.02,0.0,-0.01,0.2,-0.02,0.4,-0.01,0.54,0.03,0.58,0.07],
[-0.95,0.14,-0.8,0.12,-0.62,0.08,-0.42,0.04,-0.22,0.01,-0.02,-0.01,0.18,-0.02,0.38,0.0,0.52,0.04],
[-0.86,0.06,-0.7,0.01,-0.5,-0.05,-0.3,-0.09,-0.1,-0.13,0.1,-0.16,0.3,-0.17,0.48,-0.16,0.58,-0.13],
[-0.74,0.15,-0.58,0.12,-0.38,0.08,-0.18,0.04,0.02,0.02,0.22,0.01,0.42,0.03,0.54,0.06],
[-0.92,0.07,-0.76,0.03,-0.58,-0.02,-0.38,-0.07,-0.18,-0.11,0.02,-0.14,0.22,-0.15,0.42,-0.14,0.56,-0.11,0.62,-0.15],
[-0.82,0.11,-0.64,0.07,-0.44,0.02,-0.24,-0.02,-0.04,-0.05,0.16,-0.07,0.36,-0.07,0.52,-0.04,0.62,0.0],
[-0.88,0.15,-0.72,0.13,-0.54,0.09,-0.34,0.05,-0.14,0.02,0.06,0.0,0.26,0.0,0.44,0.03,0.54,0.07],
[-0.96,0.11,-0.8,0.08,-0.6,0.04,-0.4,0.0,-0.2,-0.03,0.0,-0.05,0.2,-0.06,0.4,-0.05,0.54,-0.02,0.6,-0.06],
[-0.76,0.07,-0.58,0.02,-0.38,-0.04,-0.18,-0.09,0.02,-0.12,0.22,-0.14,0.42,-0.13,0.56,-0.1,0.66,-0.06],
[-0.84,0.19,-0.7,0.18,-0.5,0.14,-0.3,0.1,-0.1,0.07,0.1,0.06,0.3,0.06,0.44,0.09,0.5,0.12],
[0.52,-0.05,0.58,-0.1,0.62,-0.16,0.66,-0.22,0.7,-0.24],
[0.55,0.02,0.62,0.0,0.7,-0.04,0.78,-0.06,0.86,-0.05],
[0.4,0.07,0.39,0.12,0.38,0.17],
[0.6,-0.12,0.64,-0.16,0.68,-0.14,0.72,-0.18,0.74,-0.22],
[-0.93,0.12,-0.77,0.09,-0.57,0.04,-0.37,0.0,-0.17,-0.03,0.03,-0.05,0.23,-0.06,0.43,-0.04,0.57,0.0],
[-0.87,0.11,-0.7,0.07,-0.5,0.02,-0.3,-0.02,-0.1,-0.05,0.1,-0.07,0.3,-0.07,0.48,-0.05,0.6,-0.01],
[-0.81,0.15,-0.64,0.12,-0.44,0.08,-0.24,0.04,-0.04,0.01,0.16,0.0,0.36,0.01,0.5,0.04],
[-0.95,0.1,-0.79,0.06,-0.6,0.01,-0.4,-0.04,-0.2,-0.07,0.0,-0.1,0.2,-0.11,0.4,-0.1,0.55,-0.07,0.62,-0.03],
[-0.89,0.14,-0.73,0.11,-0.53,0.07,-0.33,0.03,-0.13,0.0,0.07,-0.02,0.27,-0.02,0.45,0.0,0.56,0.04],
[-0.83,0.08,-0.66,0.04,-0.46,-0.02,-0.26,-0.06,-0.06,-0.1,0.14,-0.13,0.34,-0.13,0.5,-0.11,0.6,-0.07],
[-0.77,0.16,-0.6,0.13,-0.4,0.09,-0.2,0.05,0.0,0.03,0.2,0.02,0.4,0.04,0.5,0.07],
[-0.91,0.08,-0.75,0.04,-0.56,-0.01,-0.36,-0.06,-0.16,-0.1,0.04,-0.13,0.24,-0.14,0.44,-0.12,0.58,-0.09],
[-0.85,0.13,-0.68,0.09,-0.48,0.05,-0.28,0.01,-0.08,-0.02,0.12,-0.04,0.32,-0.04,0.49,-0.02,0.6,0.02],
[-0.79,0.11,-0.61,0.07,-0.41,0.02,-0.21,-0.02,-0.01,-0.06,0.19,-0.08,0.39,-0.08,0.54,-0.05,0.64,-0.02]
];

// highlighted shots
const unskilledShots = [
[0.123,0.999,0.081,0.993,0.031,0.974,0.026,0.999,0.061,1.046,0.093,1.075,0.1,1.038,0.112,1.006,0.123,0.999],
[0.165,0.971,0.113,0.923,0.056,0.872,0.011,0.819,0.056,0.804,0.088,0.844,0.122,0.851,0.125,0.81,0.116,0.75,0.116,0.652,0.144,0.602,0.162,0.544,0.169,0.487],
[0.16,0.917,0.18,0.942,0.172,0.88,0.155,0.82,0.162,0.785,0.148,0.8,0.125,0.86,0.15,0.9,0.16,0.917],
[1.01,0.502,0.96,0.497,0.94,0.519,0.94,0.544,0.96,0.573,0.998,0.595,1.025,0.584],
[0.637,0.381,0.621,0.353,0.675,0.334,0.72,0.385,0.78,0.38,0.83,0.37,0.846,0.36,0.85,0.345],
[0.779,0.422,0.792,0.462,0.81,0.44,0.83,0.41,0.836,0.38],
[-0.58,0.155,-0.52,0.125,-0.444,0.08,-0.274,0.042,-0.064,0.017,0.163,-0.003,0.315,-0.008,0.466,-0.01,0.485,-0.019],
[-0.586,0.161,-0.599,0.15,-0.558,0.139,-0.444,0.1,-0.33,0.059,-0.178,0.017,-0.026,-0.019,0.125,-0.053,0.258,-0.085,0.391,-0.087,0.485,-0.074,0.618,-0.066,0.637,-0.081,0.608,-0.114],
[-0.71,0.1,-0.5,0.013,-0.274,-0.061,-0.046,-0.144,0.163,-0.2,0.353,-0.214,0.542,-0.187,0.694,-0.135,0.646,-0.061,0.608,-0.026,0.656,-0.026,0.694,-0.04,0.741,-0.026,0.557,0.137],
[0,0,-0.065,0.006,-0.197,0.03,-0.368,0.063,-0.481,0.08,-0.596,0.1,-0.719,0.118,-0.71,0.1]
];
const skilledShots = [
[-0.215,0.827,-0.17,0.9,-0.1,0.935,-0.072,0.969],
[-0.1,0.935,-0.105,0.8,-0.112,0.653,-0.125,0.55,-0.146,0.413],
[0.079,0.99,0.045,0.957,-0.008,0.914,-0.042,0.87,-0.063,0.812,-0.058,0.805,-0.025,0.87,0.027,0.921,0.054,0.942,0.045,0.878,0.071,0.878],
[0.175,0.983,0.131,0.95,0.088,0.906,0.054,0.878,0.01,0.834],
[0.09,0.91,0.085,0.8,0.079,0.726,0.07,0.68,0.061,0.616],
[0.671,0.525,0.662,0.511,0.67,0.486,0.688,0.5,0.714,0.504,0.705,0.486,0.723,0.464],
[0.741,0.352,0.748,0.38,0.758,0.395,0.771,0.424,0.79,0.418,0.803,0.426],
[0.803,0.426,0.822,0.405,0.83,0.38,0.836,0.348],
[0.741,0.352,0.732,0.318,0.723,0.312,0.726,0.29,0.741,0.297],
[0,0,-0.129,0.017,-0.198,0.021,-0.425,0.072,-0.633,0.121,-0.72,0.139,-0.7,0.12,-0.5,0.05,-0.3,-0.03,-0.198,-0.074,0.149,-0.102,0.35,-0.095,0.497,-0.061,0.532,-0.074],
[0,0,-0.198,-0.008,-0.302,-0.008,-0.546,0.03,-0.773,0.072,-0.877,0.08,-0.877,0.052,-0.72,0.052,-0.372,-0.032,-0.025,-0.089,0.322,-0.089,0.532,-0.019,0.56,-0.03,0.567,-0.131,0.549,-0.173,0.619,-0.208],
[0,0,-0.025,0.005,-0.2,0.012,-0.35,0.05,-0.494,0.076,-0.616,0.094,-0.72,0.121,-0.808,0.143,-0.81,0.125,-0.763,0.087,-0.651,0.052,-0.372,-0.004,-0.111,-0.053,0.149,-0.089,0.322,-0.074,0.497,-0.044,0.549,-0.036,0.555,-0.06,0.53,-0.075]
];
const unskilledStarts = [[0,0],[0.123,0.999],[0.165,0.971],[0.16,0.917],[0.637,0.381],[0.779,0.422],[1.01,0.502]];
const skilledStarts = [[0,0],[-0.072,0.969],[0.079,0.99],[0.175,0.983],[0.662,0.511],[0.771,0.424],[0.741,0.352]];

// ---------------- styles ----------------
const unskilledShotColors = ['rgba(128,182,174,0.8)','rgba(84,124,177,0.85)','rgba(125,174,220,0.85)','rgba(128,182,174,0.8)','rgba(95,138,190,0.85)','rgba(125,174,220,0.85)','rgba(128,182,174,0.8)','rgba(120,170,218,0.85)','rgba(95,138,188,0.85)','rgba(70,106,156,0.85)'];
const skilledShotColors = ['rgba(236,128,110,0.85)','rgba(240,140,118,0.85)','rgba(200,85,90,0.85)','rgba(246,176,148,0.85)','rgba(246,176,148,0.85)','rgba(226,108,100,0.85)','rgba(205,90,92,0.85)','rgba(244,174,146,0.85)','rgba(228,112,104,0.85)','rgba(246,178,150,0.85)','rgba(232,120,104,0.85)','rgba(200,90,92,0.85)'];
const GRAY = 'rgba(190,190,190,0.72)';
const FONT = '"Liberation Sans", Arial, sans-serif';

document.getElementById('s1').textContent = panelTitles[0];
document.getElementById('s2').textContent = panelTitles[1];
document.getElementById('xt').textContent = xTitle;
document.getElementById('yt').textContent = yTitle;

function toPts(flat){const p=[];for(let i=0;i<flat.length;i+=2)p.push({x:flat[i],y:flat[i+1]});return p;}

const borderPlugin = {id:'pborder', afterDraw(chart){const {ctx, chartArea:a}=chart;ctx.save();ctx.strokeStyle='#333333';ctx.lineWidth=2.5;ctx.strokeRect(a.left,a.top,a.right-a.left,a.bottom-a.top);ctx.restore();}};

function makeChart(id, grays, shots, colors, starts, showY){
  const ds=[];
  ds.push({data:starts.map(s=>({x:s[0],y:s[1]})),showLine:false,pointStyle:'star',pointRadius:9,pointBorderWidth:3,pointBorderColor:'rgba(0,0,0,0.8)',pointBackgroundColor:'rgba(0,0,0,0.8)',order:0});
  shots.forEach((s,i)=>ds.push({data:toPts(s),showLine:true,borderColor:colors[i],borderWidth:4.5,pointRadius:0,order:1,borderJoinStyle:'round',borderCapStyle:'round'}));
  grays.forEach(g=>ds.push({data:toPts(g),showLine:true,borderColor:GRAY,borderWidth:2.6,pointRadius:0,order:2}));
  const isMajorX=v=>xTickValues.some(t=>Math.abs(t-v)<1e-9);
  const isMajorY=v=>yTickValues.some(t=>Math.abs(t-v)<1e-9);
  return new Chart(document.getElementById(id),{
    type:'scatter',
    data:{datasets:ds},
    plugins:[borderPlugin],
    options:{
      responsive:false, animation:false, events:[],
      layout:{autoPadding:false,padding:{top:5,right:10,left:0,bottom:0}},
      plugins:{legend:{display:false},tooltip:{enabled:false}},
      scales:{
        x:{type:'linear',min:xRange[0],max:xRange[1],bounds:'data',
          afterBuildTicks:s=>{s.ticks=[...xMinorValues,...xTickValues].sort((a,b)=>a-b).map(v=>({value:v}));},
          ticks:{autoSkip:false,maxRotation:0,padding:7,color:'#4d4d4d',font:{size:37,family:FONT},
            callback:v=>{const i=xTickValues.findIndex(t=>Math.abs(t-v)<1e-9);return i>=0?xTickLabels[i]:'';}},
          grid:{color:'#ebebeb',lineWidth:c=>isMajorX(c.tick.value)?4:2,drawTicks:true,tickLength:13,
            tickColor:c=>isMajorX(c.tick.value)?'#333333':'rgba(0,0,0,0)',tickWidth:3},
          border:{display:false},
          afterFit:s=>{s.height=80;s.paddingLeft=0;s.paddingRight=0;s.paddingTop=0;s.paddingBottom=0;}
        },
        y:{type:'linear',min:yRange[0],max:yRange[1],bounds:'data',
          afterBuildTicks:s=>{s.ticks=[...yMinorValues,...yTickValues].sort((a,b)=>a-b).map(v=>({value:v}));},
          ticks:{display:showY,autoSkip:false,padding:12,color:'#4d4d4d',font:{size:37,family:FONT},
            callback:v=>{const i=yTickValues.findIndex(t=>Math.abs(t-v)<1e-9);return i>=0?yTickLabels[i]:'';}},
          grid:{color:'#ebebeb',lineWidth:c=>isMajorY(c.tick.value)?4:2,drawTicks:showY,tickLength:13,
            tickColor:c=>isMajorY(c.tick.value)?'#333333':'rgba(0,0,0,0)',tickWidth:3},
          border:{display:false},
          afterFit:s=>{s.width=showY?164:12.5;s.paddingLeft=0;s.paddingRight=0;s.paddingTop=0;s.paddingBottom=0;}
        }
      }
    }
  });
}
makeChart('c1', [...unskilledTop,...unskilledRight,...unskilledBottom], unskilledShots, unskilledShotColors, unskilledStarts, true);
makeChart('c2', [...skilledTop,...skilledRight,...skilledBottom], skilledShots, skilledShotColors, skilledStarts, false);
</script>
</body></html>
